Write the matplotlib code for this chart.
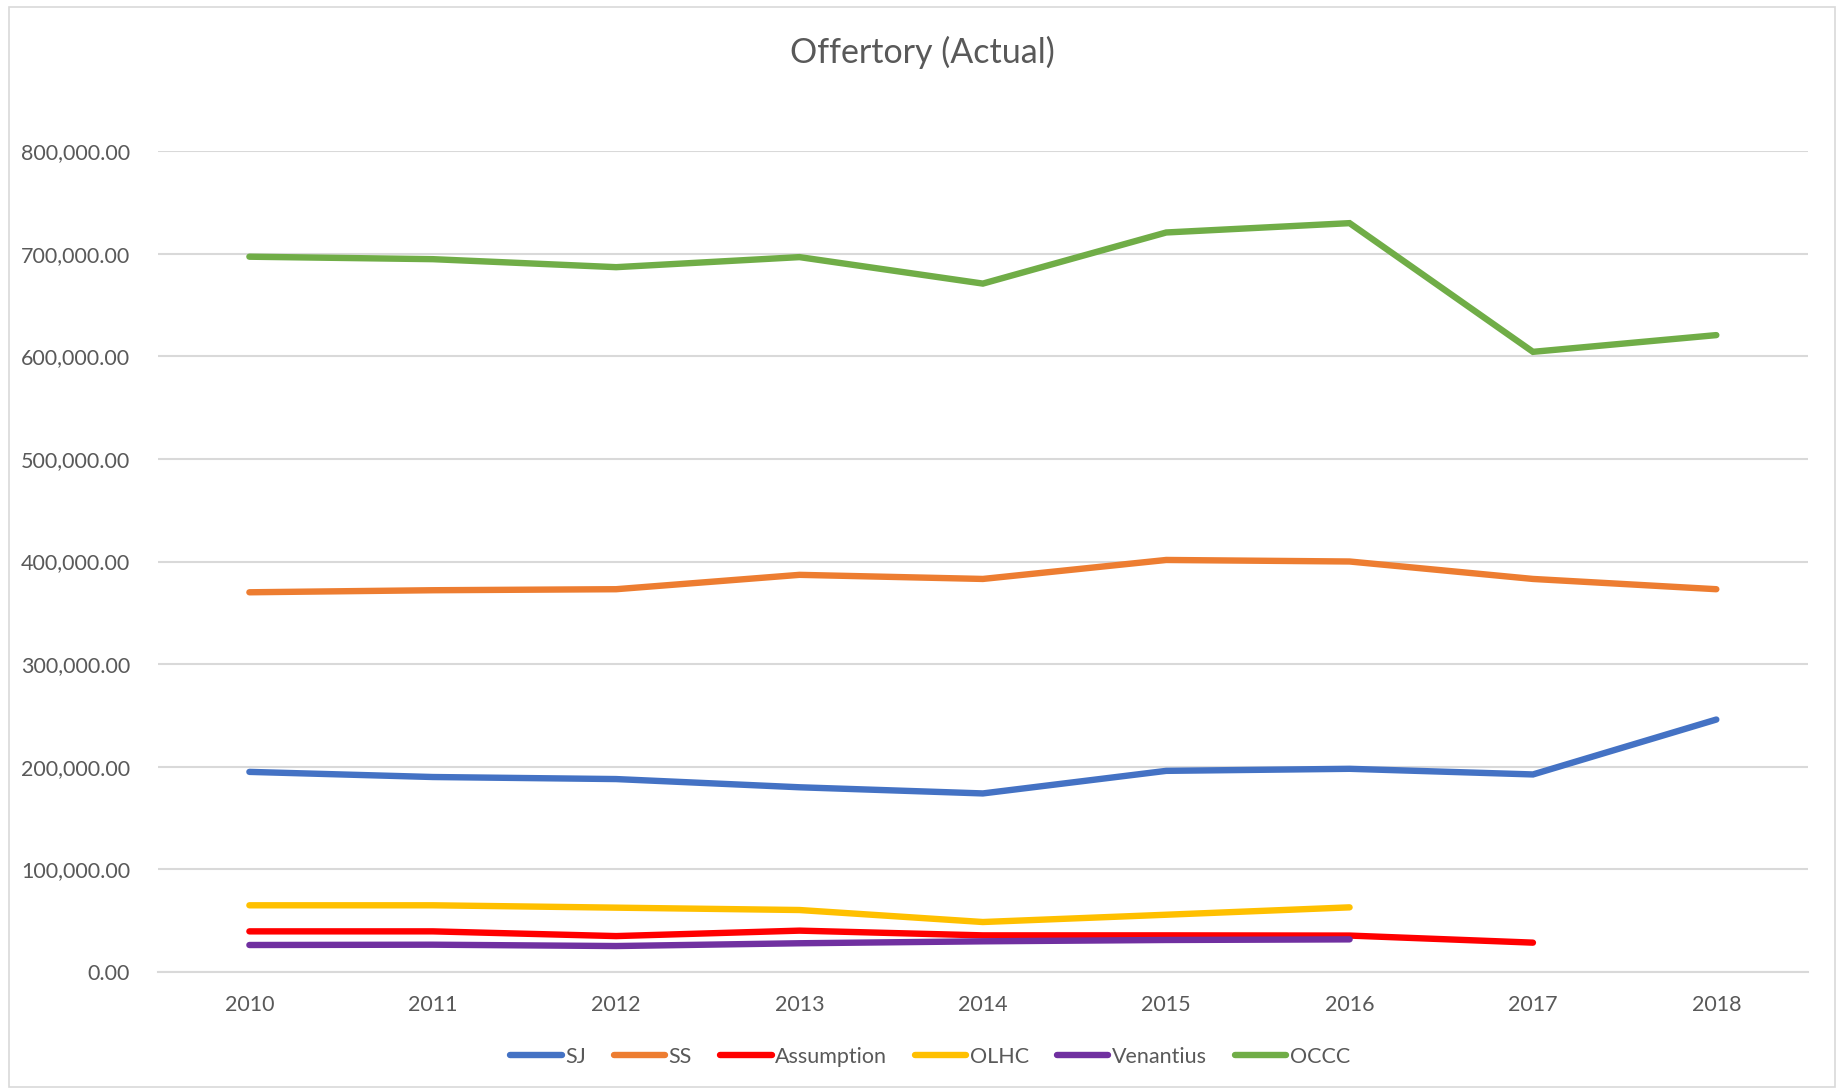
import matplotlib
matplotlib.use("Agg")
import matplotlib.pyplot as plt
from matplotlib.ticker import FuncFormatter
from matplotlib.patches import Rectangle

plt.rcParams['font.family'] = ['Lato', 'DejaVu Sans']

years = ["2010", "2011", "2012", "2013", "2014", "2015", "2016", "2017", "2018"]
sj = [195000, 190000, 188000, 180000, 174000, 196000, 198000, 192500, 246000]
ss = [370000, 372000, 373000, 387000, 383000, 401500, 400000, 383000, 373000]
assumption = [39600, 39600, 35000, 40300, 35700, 35700, 35500, 28600]
olhc = [65000, 65000, 62700, 60400, 48700, 55800, 63000]
venantius = [26300, 26600, 25300, 28000, 29900, 31200, 31800]
occc = [697000, 694600, 686800, 696600, 670800, 720600, 729700, 604300, 620600]

series = [
    ("SJ", sj, "#4472C4"),
    ("SS", ss, "#ED7D31"),
    ("Assumption", assumption, "#FF0000"),
    ("OLHC", olhc, "#FFC000"),
    ("Venantius", venantius, "#7030A0"),
    ("OCCC", occc, "#70AD47"),
]

W, H = 1845, 1091
fig = plt.figure(figsize=(W / 100, H / 100), dpi=100)
left, right, top, bottom = 157.7, 1808, 151, 972
ax = fig.add_axes([left / W, 1 - bottom / H, (right - left) / W, (bottom - top) / H])

txt = "#595959"
for name, vals, col in series:
    ax.plot(range(len(vals)), vals, color=col, lw=4.6, label=name,
            solid_capstyle='round', solid_joinstyle='miter')

ax.set_xlim(-0.5, len(years) - 0.5)
ax.set_ylim(0, 800000)
ax.set_xticks(range(len(years)))
ax.set_xticklabels(years)
ax.set_yticks(range(0, 800001, 100000))
ax.yaxis.set_major_formatter(FuncFormatter(lambda v, p: f"{v:,.2f}"))
ax.grid(axis='y', color="#D9D9D9", lw=1.5)
ax.set_axisbelow(True)
for s in ["top", "right", "left"]:
    ax.spines[s].set_visible(False)
ax.spines["bottom"].set_color("#D9D9D9")
ax.spines["bottom"].set_linewidth(1.5)
ax.tick_params(axis='both', length=0, labelsize=15.5, colors=txt)
ax.tick_params(axis='y', pad=20)
ax.tick_params(axis='x', pad=16.5)

fig.text(0.5, 1 - 52 / H, "Offertory (Actual)", ha='center', va='center',
         fontsize=24.5, color=txt)

leg = fig.legend(loc='center', bbox_to_anchor=(930 / W, 1 - 1057 / H), ncol=6,
                 frameon=False, fontsize=15.5, handlelength=2.4, handletextpad=0.15,
                 columnspacing=1.3)
for t in leg.get_texts():
    t.set_color(txt)

fig.patches.append(Rectangle((9 / W, 1 - 1087 / H), (1835 - 9) / W, (1087 - 7) / H,
                             transform=fig.transFigure, fill=False,
                             edgecolor="#D9D9D9", lw=1.2))

fig.savefig("out.png", dpi=100, facecolor="white")
